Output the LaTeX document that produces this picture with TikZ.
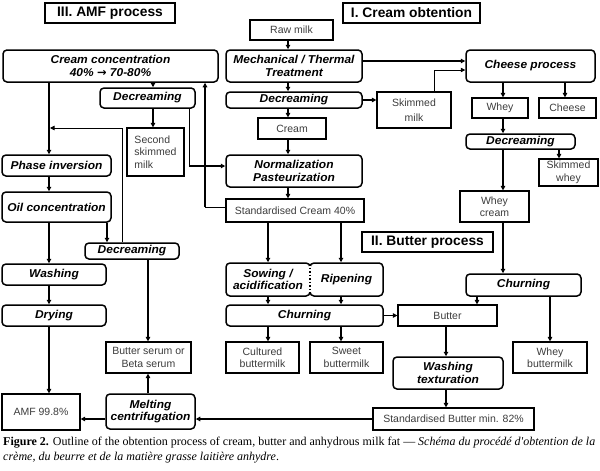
\documentclass[tikz,border=0pt]{standalone}
\usepackage{fontspec}
\setmainfont{Liberation Sans}
\newfontfamily\captionfnt{Liberation Serif}
\newfontfamily\arrowfnt{DejaVu Sans}
\newfontfamily\widesans{Liberation Sans}[FakeStretch=1.05]
\usetikzlibrary{arrows.meta}
\definecolor{txtgray}{RGB}{60,60,60}
\newcommand\bx[7]{\node[#6, minimum width={(#4-#2)*1pt}, minimum height={(#5-#3)*1pt}] (#1) at ({(#2+#4)/2},{(#3+#5)/2}) {#7};}
\begin{document}
\begin{tikzpicture}[x=1pt,y=-1pt,
  pbox/.style={draw, line width=1.2pt, inner sep=0pt, align=center, text=txtgray, font=\fontsize{10.5}{12.5}\selectfont},
  rbox/.style={draw, rounded corners=4pt, line width=1.5pt, inner sep=0pt, align=center, font=\widesans\fontsize{11.4}{12.8}\selectfont\bfseries\itshape},
  titlebox/.style={draw, line width=1.2pt, inner sep=0pt, font=\fontsize{13.8}{15}\selectfont\bfseries},
  arr/.style={-{Triangle[length=4.5pt,width=4.5pt]}, line width=1.3pt},
  arrthin/.style={-{Triangle[length=4.5pt,width=4.5pt]}, line width=0.7pt},
  thinl/.style={line width=0.7pt}]
\useasboundingbox (0,0) rectangle (600,471);
% titles
\bx{t3}{45}{3}{175}{23}{titlebox}{III. AMF process}
\bx{t1}{343}{3}{480}{23}{titlebox}{I. Cream obtention}
\bx{t2}{362}{232}{493}{252}{titlebox}{II. Butter process}
% I. cream obtention
\bx{raw}{250}{20}{333}{40}{pbox}{Raw milk}
\bx{mech}{226}{50}{362}{82}{rbox}{Mechanical / Thermal\\Treatment}
\bx{dec}{226}{92}{362}{108}{rbox}{Decreaming}
\bx{skm}{377}{92}{451}{128}{pbox}{Skimmed\\[3pt]milk}
\bx{cream}{258}{118}{326}{139}{pbox}{Cream}
\bx{norm}{226}{155}{362}{187}{rbox}{Normalization\\Pasteurization}
\bx{stdc}{226}{199}{364}{222}{pbox,text depth=-1pt}{Standardised Cream 40\%}
\bx{cheese}{466}{50}{595}{82}{rbox}{Cheese process}
\bx{whey}{472}{98}{528}{118}{pbox}{Whey}
\bx{chs}{539}{98}{596}{118}{pbox}{Cheese}
\bx{decw}{466}{134}{575}{149}{rbox}{Decreaming}
\bx{skw}{539}{159}{598}{186}{pbox}{Skimmed\\whey}
\bx{wcr}{460}{191}{529}{222}{pbox}{Whey\\cream}
% II. butter
\bx{chw}{466}{274}{581}{296}{rbox}{Churning}
\bx{sow}{226}{263}{310}{296}{rbox}{Sowing /\\acidification}
\bx{rip}{310}{263}{383}{296}{rbox}{Ripening}
\bx{chb}{226}{305}{383}{326}{rbox}{Churning}
\bx{cult}{226}{342}{299}{373}{pbox}{Cultured\\buttermilk}
\bx{sweet}{310}{342}{383}{373}{pbox}{Sweet\\buttermilk}
\bx{butter}{398}{305}{497}{326}{pbox}{Butter}
\bx{wash}{393}{357}{503}{389}{rbox}{Washing\\texturation}
\bx{stdb}{373}{408}{534}{430}{pbox}{Standardised Butter min. 82\%}
\bx{wbm}{513}{342}{587}{373}{pbox}{Whey\\buttermilk}
% III. AMF
\bx{cc}{3}{50}{218}{82}{rbox}{Cream concentration\\40\% {\arrowfnt\bfseries →} 70-80\%}
\bx{deca}{100}{88}{195}{108}{rbox}{Decreaming}
\bx{ssm}{127}{128}{184}{176}{pbox,align=left}{Second\\skimmed\\milk}
\bx{phase}{2}{155}{111}{176}{rbox}{Phase inversion}
\bx{oil}{2}{192}{111}{222}{rbox}{Oil concentration}
\bx{decb}{85}{243}{179}{259}{rbox}{Decreaming}
\bx{washa}{2}{264}{106}{285}{rbox}{Washing}
\bx{dry}{2}{305}{106}{326}{rbox}{Drying}
\bx{serum}{106}{342}{191}{373}{pbox}{Butter serum or\\Beta serum}
\bx{melt}{106}{394}{195}{429}{rbox}{Melting\\centrifugation}
\bx{amf}{2}{394}{80}{430}{pbox}{AMF 99.8\%}
% dotted seam between sowing and ripening
\draw[white, line width=2pt] (310,265) -- (310,294);
\draw[line width=1.5pt, dotted] (310,264) -- (310,295);
% connectors: cream obtention
\draw[arr] (288,0 |- raw.south) -- (288,0 |- mech.north);
\draw[arr] (288,0 |- mech.south) -- (288,0 |- dec.north);
\draw[arr] (288,0 |- dec.south) -- (288,0 |- cream.north);
\draw[arr] (288,0 |- cream.south) -- (288,0 |- norm.north);
\draw[arr] (288,0 |- norm.south) -- (288,0 |- stdc.north);
\draw[arr] (dec.east) -- (skm.west |- dec.east);
\draw[arr] (mech.east |- 0,61) -- (cheese.west |- 0,61);
\draw[arrthin] (434,0 |- skm.north) -- (434,70) -- (cheese.west |- 0,70);
\draw[arr] (503,0 |- cheese.south) -- (503,0 |- whey.north);
\draw[arr] (565,0 |- cheese.south) -- (565,0 |- chs.north);
\draw[arr] (503,0 |- whey.south) -- (503,0 |- decw.north);
\draw[arr] (503,0 |- decw.south) -- (503,0 |- wcr.north);
\draw[arr] (559,0 |- decw.south) -- (559,0 |- skw.north);
\draw[arr] (503,0 |- wcr.south) -- (503,0 |- chw.north);
% butter
\draw[arr] (477,0 |- chw.south) -- (477,0 |- butter.north);
\draw[arr] (550,0 |- chw.south) -- (550,0 |- wbm.north);
\draw[arr] (268,0 |- stdc.south) -- (268,0 |- sow.north);
\draw[arr] (341,0 |- stdc.south) -- (341,0 |- rip.north);
\draw[arr] (268,0 |- sow.south) -- (268,0 |- chb.north);
\draw[arr] (341,0 |- rip.south) -- (341,0 |- chb.north);
\draw[arr] (268,0 |- chb.south) -- (268,0 |- cult.north);
\draw[arr] (341,0 |- chb.south) -- (341,0 |- sweet.north);
\draw[arr] (chb.east) -- (butter.west);
\draw[arr] (446,0 |- butter.south) -- (446,0 |- wash.north);
\draw[arr] (446,0 |- wash.south) -- (446,0 |- stdb.north);
\draw[arr] (stdb.west |- 0,419) -- (melt.east |- 0,419);
% AMF
\draw[arr] (melt.west |- 0,419) -- (amf.east |- 0,419);
\draw[arr] (148,0 |- melt.north) -- (148,0 |- serum.south);
\draw[arr] (148,0 |- decb.south) -- (148,0 |- serum.north);
\draw[arr] (107,0 |- oil.south) -- (107,0 |- decb.north);
\draw[arr] (49,0 |- cc.south) -- (49,0 |- phase.north);
\draw[arr] (49,0 |- phase.south) -- (49,0 |- oil.north);
\draw[arr] (49,0 |- oil.south) -- (49,0 |- washa.north);
\draw[arr] (49,0 |- washa.south) -- (49,0 |- dry.north);
\draw[arr] (49,0 |- dry.south) -- (49,0 |- amf.north);
\coordinate (j1) at (50,128);
\draw[arrthin] (122,0 |- decb.north) -- (122,128) -- (j1);
\draw[arr] (153,0 |- cc.south) -- (153,0 |- deca.north);
\draw[arr] (153,0 |- deca.south) -- (153,0 |- ssm.north);
\draw[thinl] (189,0 |- deca.south) -- (189,166);
\draw[arr] (189,166) -- (norm.west |- 0,166);
\draw[thinl] (stdc.west |- 0,207) -- (205,207);
\draw[arr] (205,207) -- (205,0 |- cc.south);
% caption
\node[anchor=north west, align=left, inner sep=0pt, font=\captionfnt\fontsize{12}{15}\selectfont] (cap) at (3,437)
{\textbf{Figure 2.} Outline of the obtention process of cream, butter and anhydrous milk fat — \textit{Schéma du procédé d'obtention de la}\\
\textit{crème, du beurre et de la matière grasse laitière anhydre}.};
\end{tikzpicture}
\end{document}
